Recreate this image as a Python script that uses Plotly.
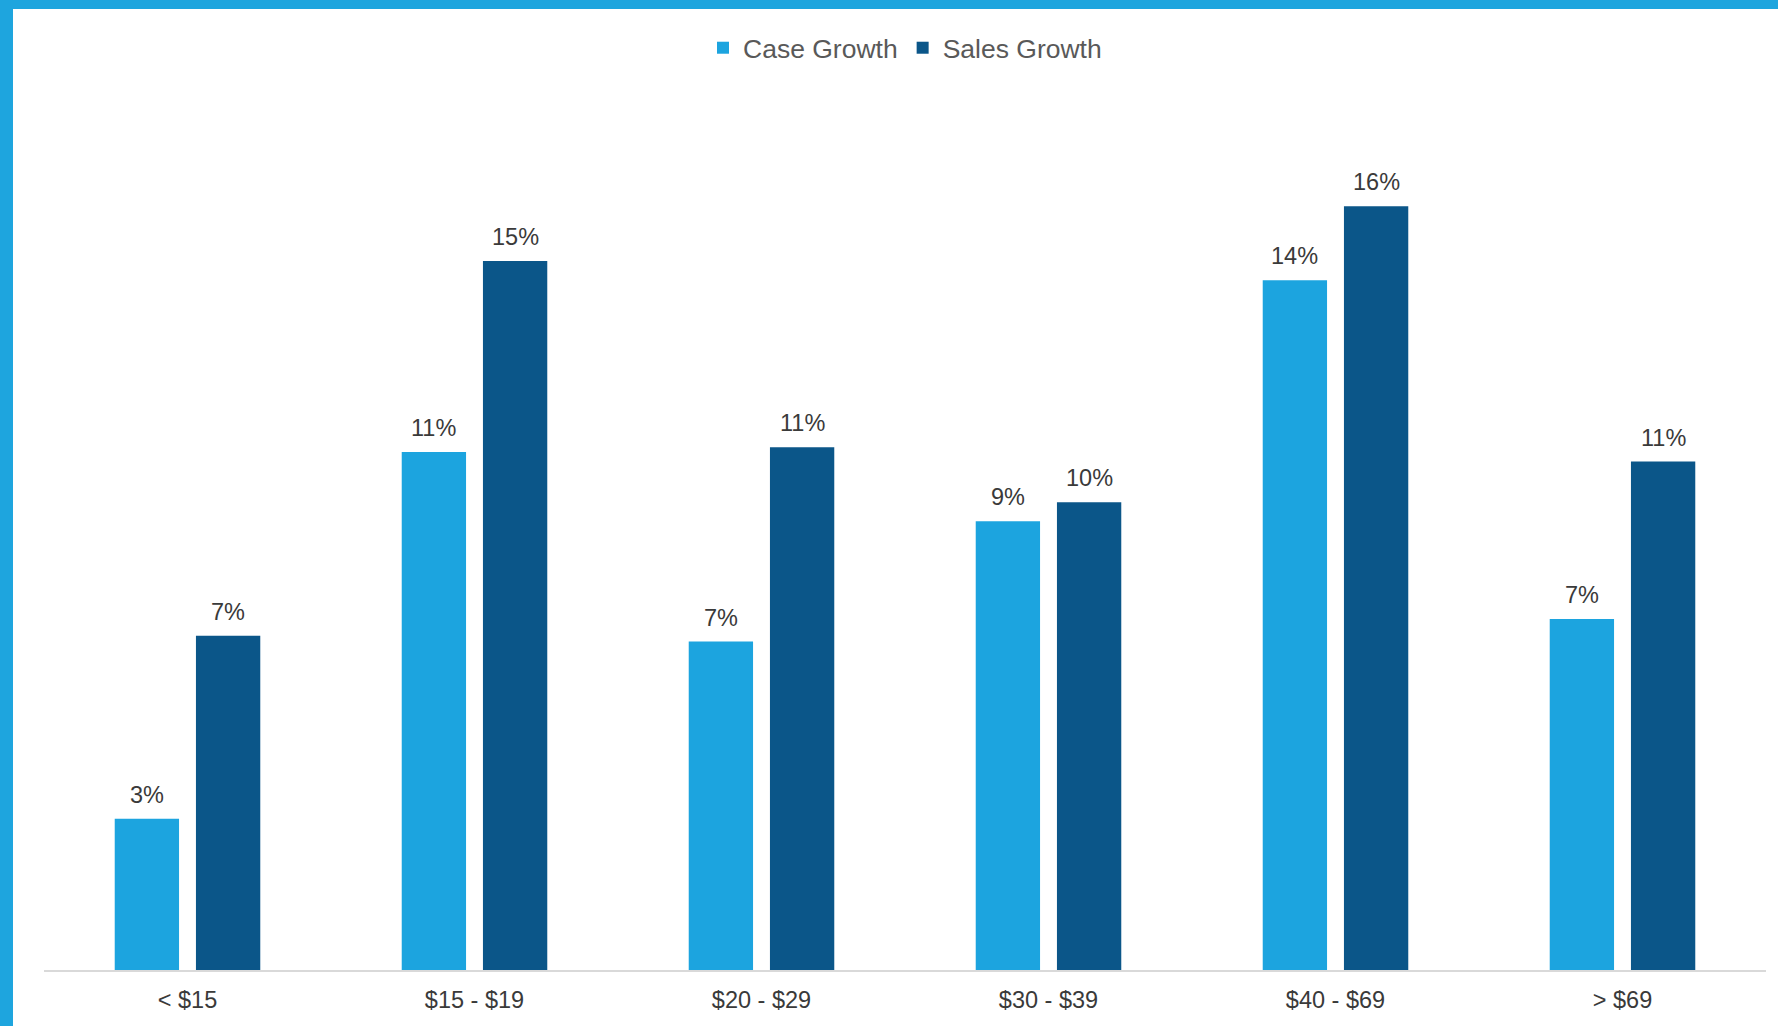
import plotly.graph_objects as go

categories = ["< $15", "$15 - $19", "$20 - $29", "$30 - $39", "$40 - $69", "> $69"]
case_growth = [3.17, 10.85, 6.88, 9.4, 14.45, 7.35]
sales_growth = [7.0, 14.85, 10.95, 9.8, 16.0, 10.65]
series_names = ["Case Growth", "Sales Growth"]
colors = ["#1CA4DF", "#0B5689"]

W, H = 1778, 1026
ML, MR, MT, MB = 44, 12, 120, 56
PW, PH = W - ML - MR, H - MT - MB
FONT = "Liberation Sans, Arial, sans-serif"

fig = go.Figure()
for name, vals, col in zip(series_names, [case_growth, sales_growth], colors):
    fig.add_trace(go.Bar(name=name, x=categories, y=vals, marker=dict(color=col, line=dict(width=0))))

slot = (1 - 0.434) * PW / len(categories) / 2
for k, vals in enumerate([case_growth, sales_growth]):
    for c, v in zip(categories, vals):
        fig.add_annotation(x=c, y=v, xref="x", yref="y", text=f"{round(v)}%", showarrow=False,
                           yanchor="bottom", xshift=(k - 0.5) * slot, yshift=9,
                           font=dict(family=FONT, size=23.5, color="#3A3A3A"))

# blue frame (left and top)
fig.add_shape(type="rect", xref="paper", yref="paper", x0=(0 - ML) / PW, x1=(13 - ML) / PW,
              y0=-MB / PH, y1=1 + MT / PH, fillcolor="#1EA5DE", line=dict(width=0), layer="above")
fig.add_shape(type="rect", xref="paper", yref="paper", x0=(0 - ML) / PW, x1=1 + MR / PW,
              y0=1 + (MT - 9) / PH, y1=1 + MT / PH, fillcolor="#1EA5DE", line=dict(width=0), layer="above")

fig.update_layout(
    width=W, height=H,
    margin=dict(l=ML, r=MR, t=MT, b=MB, autoexpand=False),
    paper_bgcolor="white", plot_bgcolor="white",
    barmode="group", bargap=0.434, bargroupgap=0.208,
    font=dict(family=FONT, size=23, color="#3A3A3A"),
    legend=dict(orientation="h", x=0.5, xanchor="center", y=1 + (MT - 48) / PH, yanchor="middle",
                font=dict(family=FONT, size=26.5, color="#595959"), itemwidth=30, traceorder="normal"),
    showlegend=True,
    xaxis=dict(showgrid=False, showline=True, linecolor="#D9D9D9", linewidth=2, ticks="",
               tickfont=dict(family=FONT, size=23.5, color="#3A3A3A"), ticklabelstandoff=8,
               fixedrange=True),
    yaxis=dict(visible=False, range=[0, PH / 47.74], showgrid=False, zeroline=False),
)

fig.write_html("out.html")
